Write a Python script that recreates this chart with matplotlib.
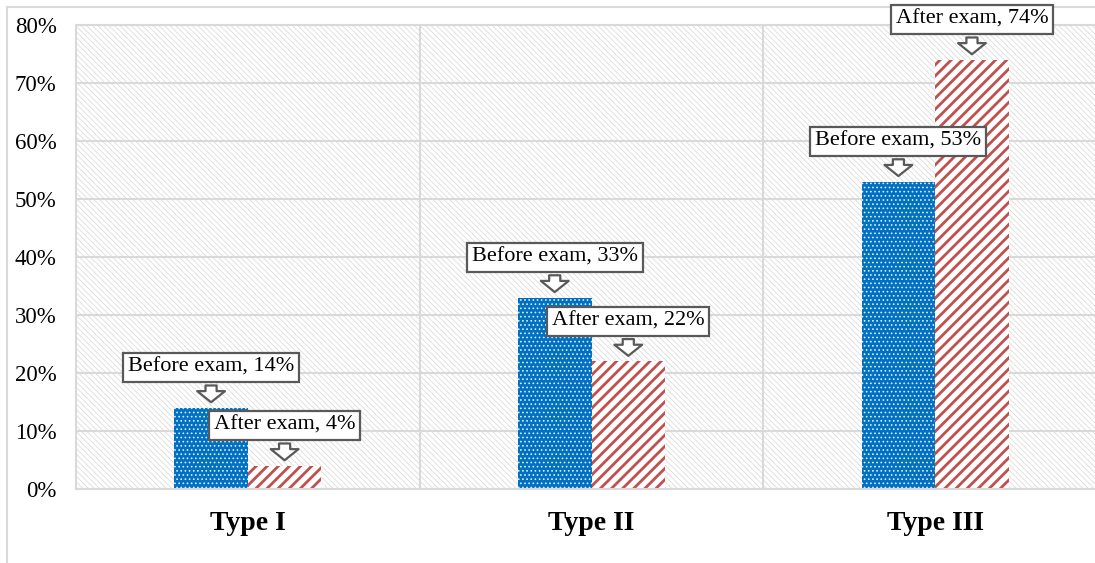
import matplotlib.pyplot as plt
import matplotlib.patches as mpatches
import numpy as np

categories = ["Type I", "Type II", "Type III"]
before_exam = [14, 33, 53]
after_exam = [4, 22, 74]
series_names = ["Before exam", "After exam"]
y_ticks = [0, 10, 20, 30, 40, 50, 60, 70, 80]

blue = "#0070C0"
red = "#C0504D"
grid_gray = "#D9D9D9"
box_gray = "#595959"

plt.rcParams['font.family'] = ['Liberation Serif', 'DejaVu Serif']

fig = plt.figure(figsize=(10.95, 5.63), dpi=100)
# chart area border (runs off the right and bottom of the canvas)
fig.patches.append(mpatches.Rectangle((7 / 1095, -0.2), 1.2, 1.2 - 7 / 563,
                                      transform=fig.transFigure, fill=False,
                                      edgecolor=grid_gray, lw=1.5, zorder=-1))
ax = fig.add_axes([76 / 1095, 74 / 563, 1031 / 1095, 464 / 563])

x = np.arange(len(categories))
w = 0.214

# hatched plot-area background
plt.rcParams['hatch.linewidth'] = 0.5
bg = mpatches.Rectangle((0, 0), 1, 1, transform=ax.transAxes, facecolor="white",
                        edgecolor="#D6D6D6", hatch="\\\\\\\\\\\\", lw=0, zorder=0.1)
ax.add_patch(bg)

plt.rcParams['hatch.linewidth'] = 0.7
b1 = ax.bar(x - w / 2, before_exam, w, color=blue, edgecolor="#DCEBF7", hatch="....",
            lw=0, zorder=2)
plt.rcParams['hatch.linewidth'] = 2.0
b2 = ax.bar(x + w / 2, after_exam, w, color="white", edgecolor=red, hatch="///",
            lw=0, zorder=2)
for bars, lw in ((b1, 0.7), (b2, 2.0)):
    for p in bars:
        if hasattr(p, "set_hatch_linewidth"):
            p.set_hatch_linewidth(lw)

# callout labels
for bars, vals, name in ((b1, before_exam, series_names[0]), (b2, after_exam, series_names[1])):
    for p, v in zip(bars, vals):
        cx = p.get_x() + p.get_width() / 2
        ax.annotate(f"{name}, {v}%", xy=(cx, v), xytext=(0, 29), textcoords="offset points",
                    ha="center", va="center", fontsize=16, zorder=5,
                    bbox=dict(boxstyle="square,pad=0.22", fc="white", ec=box_gray, lw=1.6),
                    arrowprops=dict(arrowstyle="simple,head_length=0.8,head_width=2.0,tail_width=0.8",
                                    mutation_scale=10, fc="white", ec=box_gray, lw=1.6,
                                    shrinkB=4))

ax.set_xlim(-0.5, 2.5)
ax.set_ylim(0, 80)
ax.set_yticks(y_ticks)
ax.set_yticklabels([f"{t}%" for t in y_ticks], fontsize=16.5)
ax.set_xticks(x)
ax.set_xticklabels(categories, fontsize=20, fontweight="bold")
ax.set_xticks([0.5, 1.5], minor=True)
ax.tick_params(axis="both", which="both", length=0)
ax.tick_params(axis="y", pad=14)
ax.tick_params(axis="x", pad=16)

ax.set_axisbelow(True)
ax.grid(axis="y", color=grid_gray, lw=1.5)
ax.grid(axis="x", which="minor", color=grid_gray, lw=1.5)
for s in ax.spines.values():
    s.set_color(grid_gray)
    s.set_linewidth(1.5)

fig.savefig("out.png", dpi=100)
